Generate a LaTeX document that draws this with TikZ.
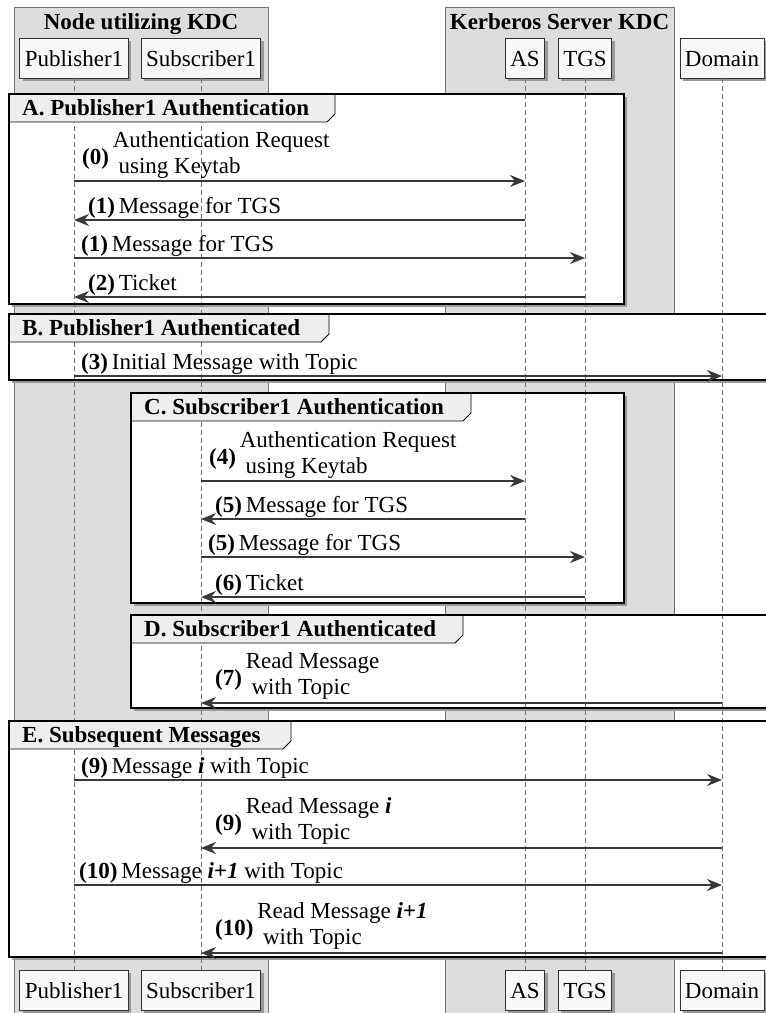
\documentclass[tikz,border=0pt]{standalone}
\usepackage{fontspec}
\setmainfont{LiberationSerif}[Extension=.ttf, UprightFont=*-Regular, BoldFont=*-Bold, ItalicFont=*-Italic, BoldItalicFont=*-BoldItalic]
\usetikzlibrary{arrows.meta,shadows,calc}

\definecolor{bggray}{HTML}{DDDDDD}
\definecolor{tabgray}{HTML}{EEEEEE}
\definecolor{inkgray}{HTML}{383838}
\definecolor{boxfill}{HTML}{F8F8F8}

\tikzset{
  bgbox/.style={fill=bggray, draw=black!55, line width=0.8pt},
  headtext/.style={font=\fontsize{23}{26}\selectfont\bfseries, inner sep=0pt},
  part/.style={draw=black!80, fill=boxfill, line width=0.9pt, minimum height=40pt,
    inner xsep=5pt, inner ysep=0pt, text height=16pt, text depth=0pt,
    drop shadow={shadow xshift=3pt, shadow yshift=-3pt, fill=black!40, opacity=1}},
  life/.style={draw=black!55, line width=0.9pt, dash pattern=on 5pt off 3pt},
  grpshade/.style={fill=black!40},
  grpfill/.style={fill=white},
  grpline/.style={draw=black, line width=2pt},
  tabshape/.style={fill=tabgray, draw=black, line width=0.9pt},
  msg/.style={draw=inkgray, line width=1.8pt, -{Stealth[length=15pt,width=12pt,inset=5pt]}},
  lbl/.style={inner sep=0pt},
}

% message arrow between two lifelines at a given height
\newcommand{\sendmsg}[4]{%
  \coordinate (#4s) at (#1 |- 0,#3);
  \coordinate (#4e) at (#2 |- 0,#3);
  \draw[msg] (#4s) -- (#4e);}

% group frame: shadow and white body
\newcommand{\grpbody}[4]{%
  \fill[grpshade] (#1+3,#2+3) rectangle (#3+3,#4+3);
  \fill[grpfill] (#1,#2) rectangle (#3,#4);}

% group tab with chamfered corner and bold title
\newcommand{\grptab}[5]{%
  \draw[tabshape] (#1,#2) -- (#3,#2) -- (#3,#2+20) -- (#3-8,#2+28) -- (#1,#2+28) -- cycle;
  \node[headtext, anchor=base west] (#4) at (#1+13,#2+21) {#5};}

\begin{document}
\begin{tikzpicture}[x=1pt, y=-1pt, font=\fontsize{23}{26}\selectfont]
\useasboundingbox (0,0) rectangle (766,1013);
\clip (0,0) rectangle (766,1013);
\fill[white] (0,0) rectangle (766,1013);

% participant groups
\draw[bgbox] (14,7) rectangle (268,1025);
\draw[bgbox] (445,7) rectangle (674,1025);
\node[headtext, anchor=base] (nodeTitle) at (141,29.5) {Node utilizing KDC};
\node[headtext, anchor=base] (kdcTitle) at (559.5,29.5) {Kerberos Server KDC};

% participants, top and bottom
\node[part] (pubT) at (74,58) {Publisher1};
\node[part] (subT) at (201,58) {Subscriber1};
\node[part] (asT) at (525,58) {AS};
\node[part] (tgsT) at (585,58) {TGS};
\node[part] (domT) at (722,58) {Domain};
\node[part] (pubB) at (74,990) {Publisher1};
\node[part] (subB) at (201,990) {Subscriber1};
\node[part] (asB) at (525,990) {AS};
\node[part] (tgsB) at (585,990) {TGS};
\node[part] (domB) at (722,990) {Domain};

% group bodies
\grpbody{9}{94}{624}{304}
\grpbody{9}{314}{790}{380}
\grpbody{131}{393}{624}{603}
\grpbody{131}{615}{790}{708}
\grpbody{9}{721}{790}{957}

% lifelines
\draw[life] (pubT) -- (pubB);
\draw[life] (subT) -- (subB);
\draw[life] (asT) -- (asB);
\draw[life] (tgsT) -- (tgsB);
\draw[life] (domT) -- (domB);

% group tabs
\grptab{9}{94}{335}{gA}{A. Publisher1 Authentication}
\grptab{9}{314}{329}{gB}{B. Publisher1 Authenticated}
\grptab{131}{393}{471}{gC}{C. Subscriber1 Authentication}
\grptab{131}{615}{463}{gD}{D. Subscriber1 Authenticated}
\grptab{9}{721}{291}{gE}{E. Subsequent Messages}

% group outlines
\draw[grpline] (9,94) rectangle (624,304);
\draw[grpline] (9,314) rectangle (790,380);
\draw[grpline] (131,393) rectangle (624,603);
\draw[grpline] (131,615) rectangle (790,708);
\draw[grpline] (9,721) rectangle (790,957);

% A. Publisher1 authentication
\sendmsg{pubT}{asT}{181}{m0}
\node[lbl, anchor=base west] (m0l) at ($(m0s)+(8,-8)$)
  {\raisebox{9pt}{\textbf{(0)}}\,\begin{tabular}[b]{@{}l@{}}Authentication Request\\\ using Keytab\end{tabular}};
\sendmsg{asT}{pubT}{220}{m1}
\node[lbl, anchor=base west] (m1l) at ($(m1e)+(14,-7)$) {\textbf{(1)}\,Message for TGS};
\sendmsg{pubT}{tgsT}{258}{m2}
\node[lbl, anchor=base west] (m2l) at ($(m2s)+(7,-7)$) {\textbf{(1)}\,Message for TGS};
\sendmsg{tgsT}{pubT}{297}{m3}
\node[lbl, anchor=base west] (m3l) at ($(m3e)+(14,-7)$) {\textbf{(2)}\,Ticket};

% B. Publisher1 authenticated
\sendmsg{pubT}{domT}{376}{m4}
\node[lbl, anchor=base west] (m4l) at ($(m4s)+(7,-7)$) {\textbf{(3)}\,Initial Message with Topic};

% C. Subscriber1 authentication
\sendmsg{subT}{asT}{481}{m5}
\node[lbl, anchor=base west] (m5l) at ($(m5s)+(8,-8)$)
  {\raisebox{9pt}{\textbf{(4)}}\,\begin{tabular}[b]{@{}l@{}}Authentication Request\\\ using Keytab\end{tabular}};
\sendmsg{asT}{subT}{519}{m6}
\node[lbl, anchor=base west] (m6l) at ($(m6e)+(14,-7)$) {\textbf{(5)}\,Message for TGS};
\sendmsg{subT}{tgsT}{557}{m7}
\node[lbl, anchor=base west] (m7l) at ($(m7s)+(7,-7)$) {\textbf{(5)}\,Message for TGS};
\sendmsg{tgsT}{subT}{597}{m8}
\node[lbl, anchor=base west] (m8l) at ($(m8e)+(14,-7)$) {\textbf{(6)}\,Ticket};

% D. Subscriber1 authenticated
\sendmsg{domT}{subT}{703}{m9}
\node[lbl, anchor=base west] (m9l) at ($(m9e)+(14,-9)$)
  {\raisebox{9pt}{\textbf{(7)}}\,\begin{tabular}[b]{@{}l@{}}Read Message\\\ with Topic\end{tabular}};

% E. Subsequent messages
\sendmsg{pubT}{domT}{780}{m10}
\node[lbl, anchor=base west] (m10l) at ($(m10s)+(7,-7)$) {\textbf{(9)}\,Message \textbf{\textit{i}} with Topic};
\sendmsg{domT}{subT}{848}{m11}
\node[lbl, anchor=base west] (m11l) at ($(m11e)+(14,-9)$)
  {\raisebox{9pt}{\textbf{(9)}}\,\begin{tabular}[b]{@{}l@{}}Read Message \textbf{\textit{i}}\\\ with Topic\end{tabular}};
\sendmsg{pubT}{domT}{885}{m12}
\node[lbl, anchor=base west] (m12l) at ($(m12s)+(5,-7)$) {\textbf{(10)}\,Message \textbf{\textit{i+1}} with Topic};
\sendmsg{domT}{subT}{953}{m13}
\node[lbl, anchor=base west] (m13l) at ($(m13e)+(14,-9)$)
  {\raisebox{9pt}{\textbf{(10)}}\,\begin{tabular}[b]{@{}l@{}}Read Message \textbf{\textit{i+1}}\\\ with Topic\end{tabular}};
\end{tikzpicture}
\end{document}
